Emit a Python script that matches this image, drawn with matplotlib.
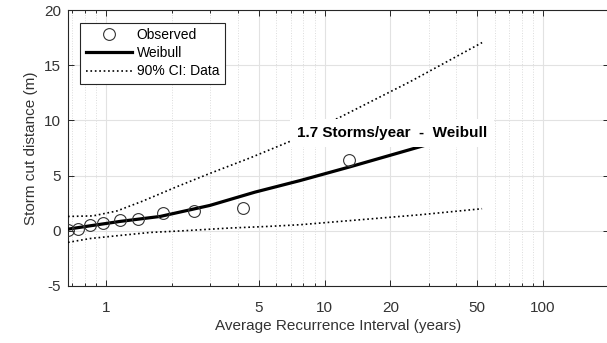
import matplotlib
matplotlib.use('Agg')
import matplotlib.pyplot as plt
from matplotlib.ticker import FixedLocator, NullFormatter

plt.rcParams['font.family'] = ['Liberation Sans', 'DejaVu Sans']
plt.rcParams['font.size'] = 11
plt.rcParams['axes.unicode_minus'] = False

# observed storm cut distances (average recurrence interval in years, metres)
obs_ari = [0.671, 0.747, 0.845, 0.972, 1.159, 1.406, 1.818, 2.529, 4.22, 12.9]
obs_cut = [0.09, 0.18, 0.48, 0.70, 1.00, 1.09, 1.60, 1.81, 2.05, 6.37]

# fitted weibull curve
fit_ari = [0.67, 0.845, 1.16, 1.77, 2.99, 4.8, 7.73, 13.1, 28.3, 52.6]
fit_cut = [0.15, 0.45, 0.85, 1.30, 2.30, 3.50, 4.55, 5.80, 7.70, 9.30]

# 90% confidence band
ci_up_ari = [0.67, 0.872, 1.123, 1.477, 2.113, 2.99, 4.56, 6.95, 11.8, 24.6, 52.6]
ci_up_cut = [1.30, 1.35, 1.80, 2.70, 4.00, 5.20, 6.60, 8.10, 10.3, 13.5, 17.05]
ci_lo_ari = [0.67, 0.845, 1.12, 1.59, 2.25, 3.69, 5.57, 7.73, 15.6, 27.3, 52.6]
ci_lo_cut = [-1.05, -0.70, -0.45, -0.15, 0.0, 0.25, 0.40, 0.55, 1.05, 1.45, 2.0]

x_major = [1, 5, 10, 20, 50, 100]
x_minor = [0.7, 0.8, 0.9, 2, 3, 4, 6, 7, 8, 9, 30, 40, 60, 70, 80, 90]
y_ticks = [-5, 0, 5, 10, 15, 20]

storms_per_year = 1.7
dist_name = 'Weibull'

fig = plt.figure(figsize=(6.07, 3.43), dpi=100)
ax = fig.add_axes([0.112, 0.1662, 0.891, 0.8046])

ax.plot(fit_ari, fit_cut, color='black', lw=2.3, label=dist_name, zorder=3)
ax.plot(obs_ari, obs_cut, linestyle='none', marker='o', ms=8.5, mfc='none',
        mec='#333333', mew=0.8, label='Observed', zorder=4)
ax.plot(ci_up_ari, ci_up_cut, color='black', lw=1.2, ls=':', label='90% CI: Data', zorder=3)
ax.plot(ci_lo_ari, ci_lo_cut, color='black', lw=1.2, ls=':', zorder=3)

ax.set_xscale('log')
ax.set_xlim(0.67, 200)
ax.set_ylim(-5, 20)
ax.xaxis.set_major_locator(FixedLocator(x_major))
ax.xaxis.set_minor_locator(FixedLocator(x_minor))
ax.xaxis.set_minor_formatter(NullFormatter())
ax.set_xticklabels([str(v) for v in x_major])
ax.set_yticks(y_ticks)

ax.grid(True, which='major', color='#e2e2e2', lw=0.8, ls='-')
ax.grid(True, which='minor', axis='x', color='#dcdcdc', lw=0.7, ls=':')
ax.set_axisbelow(True)

ax.tick_params(which='both', direction='in', top=True, right=True, colors='#262626',
               labelcolor='#333333', width=0.7)
ax.tick_params(which='major', length=4)
ax.tick_params(axis='x', which='major', pad=11)
ax.tick_params(axis='y', which='major', pad=5)
ax.tick_params(which='minor', length=2.5)
for s in ax.spines.values():
    s.set_color('#262626')
    s.set_linewidth(0.8)

ax.set_xlabel('Average Recurrence Interval (years)', color='#333333', labelpad=3)
ax.set_ylabel('Storm cut distance (m)', color='#333333', labelpad=4)

ax.text(20.4, 8.88, f'{storms_per_year} Storms/year  -  {dist_name}', ha='center', va='center',
        fontsize=11, fontweight='bold', zorder=6,
        bbox=dict(facecolor='white', edgecolor='none', pad=5))

h, l = ax.get_legend_handles_labels()
order = [1, 0, 2]
leg = ax.legend([h[i] for i in order], [l[i] for i in order], loc='upper left', fontsize=10,
                fancybox=False, framealpha=1, edgecolor='#262626', handlelength=3.3,
                handletextpad=0.35, borderaxespad=0.9, labelspacing=0.3, borderpad=0.4)
leg.get_frame().set_linewidth(0.8)
leg.set_zorder(7)

fig.savefig('out.png', dpi=100)
